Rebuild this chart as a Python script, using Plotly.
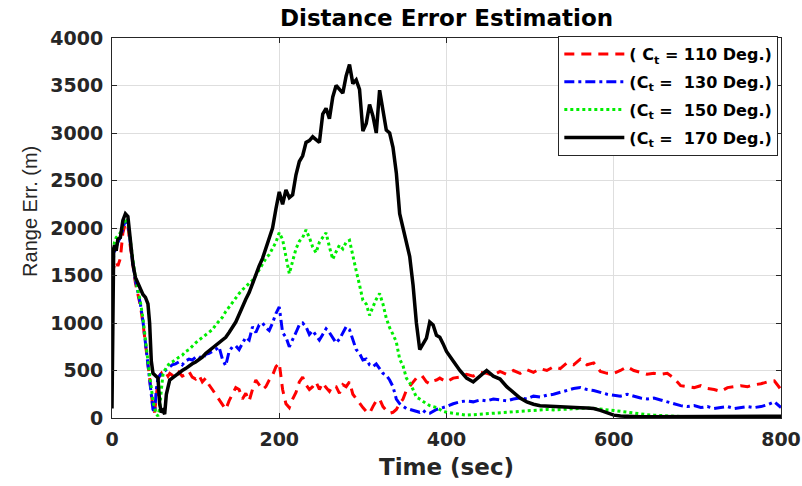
import plotly.graph_objects as go

# Sample times (s): dense at the start, then 4 s steps, then 8 s steps
T_START = [0, 1, 2, 3, 5, 7, 10, 13, 16, 19, 22, 25, 28, 31, 34, 37, 40, 43,
           45, 47, 49, 51, 53, 55, 57, 59, 61, 63, 65, 67, 69]
T_MID = list(range(72, 400, 4))
T_LATE = list(range(400, 801, 8))
time_s = T_START + T_MID + T_LATE

# Range error (m) for each turn-angle setting
err_110 = [
    1500, 1550, 1600, 1620, 1650, 1600, 1680, 1950, 2050, 2020, 1800, 1600, 1420, 1300, 1180, 1000,
    800, 560, 420, 260, 100, 60, 250, 400, 450, 470, 430, 450, 470, 440, 470,
    450, 420, 480, 440, 460, 490, 430, 410, 450, 380, 420, 350, 300, 250, 200, 150,
    90, 180, 250, 320, 300, 200, 260, 180, 300, 400, 350, 300, 330, 400, 450, 540,
    580, 300, 150, 110, 200, 270, 380, 430, 350, 300, 330, 380, 300, 370, 320, 280,
    340, 330, 260, 350, 330, 380, 250, 200, 150, 110, 70, 50, 120, 180, 200, 120,
    80, 50, 60, 90, 150, 200, 290, 330, 380, 420, 400, 430, 380, 360, 390, 400,
    420, 400,
    380, 420, 430, 460, 440, 480, 470, 450, 490, 460, 500, 470, 510, 480, 520, 500,
    540, 520, 580, 560, 620, 560, 580, 490, 470, 470, 500, 540, 500, 480, 460, 470,
    460, 470, 420, 340, 330, 320, 340, 310, 300, 280, 320, 330, 340, 330, 350, 360,
    380, 390, 300,
]
err_130 = [
    1600, 1650, 1700, 1750, 1800, 1850, 1900, 2000, 2080, 2050, 1820, 1620, 1450, 1320, 1200, 1020,
    820, 560, 400, 250, 90, 60, 300, 420, 450, 470, 480, 500, 510, 520, 540,
    560, 570, 590, 560, 600, 620, 610, 640, 650, 620, 670, 680, 700, 720, 750, 620,
    550, 700, 750, 760, 720, 780, 850, 820, 960, 900, 980, 1000, 950, 920, 1000, 1100,
    1170, 900, 850, 750, 820, 900, 980, 1000, 960, 880, 920, 870, 820, 880, 940, 900,
    850, 790, 830, 900, 960, 930, 820, 720, 680, 610, 620, 560, 540, 570, 520, 470,
    450, 400, 330, 200, 150, 120, 100, 90, 80, 70, 60, 80, 50, 50, 70, 90,
    100, 110,
    120, 150, 170, 180, 170, 190, 180, 200, 190, 180, 200, 210, 200, 230, 220, 240,
    250, 270, 290, 310, 320, 300, 290, 270, 250, 240, 230, 250, 230, 210, 200, 210,
    190, 170, 150, 130, 120, 130, 110, 120, 100, 110, 120, 100, 110, 120, 110, 120,
    140, 170, 110,
]
err_150 = [
    1700, 1750, 1800, 1850, 1900, 1920, 1950, 2020, 2100, 2060, 1850, 1630, 1470, 1340, 1220, 1050,
    850, 600, 450, 300, 180, 100, 40, 20, 100, 300, 460, 500, 530, 560, 580,
    590, 620, 640, 660, 700, 720, 760, 790, 820, 850, 870, 900, 930, 980, 1020, 1060,
    1120, 1170, 1220, 1260, 1310, 1350, 1380, 1420, 1450, 1500, 1560, 1620, 1680, 1720, 1780, 1850,
    1950, 1880, 1700, 1520, 1650, 1780, 1860, 1900, 1980, 1900, 1800, 1740, 1850, 1900, 1950, 1800,
    1670, 1750, 1820, 1780, 1850, 1870, 1700, 1550, 1400, 1240, 1200, 1080, 1170, 1250, 1310, 1200,
    1050, 950, 880, 800, 620, 550, 420, 370, 300, 220, 200, 170, 150, 130, 120, 110,
    90, 70,
    60, 50, 40, 30, 35, 40, 45, 50, 55, 60, 65, 75, 80, 85, 85, 90,
    85, 90, 95, 100, 100, 105, 100, 95, 90, 80, 70, 60, 50, 40, 35, 30,
    25, 20, 15, 15, 12, 10, 10, 10, 10, 10, 10, 10, 10, 10, 10, 10,
    10, 10, 10,
]
err_170 = [
    100, 1000, 1780, 1820, 1760, 1880, 1900, 2080, 2150, 2120, 1900, 1620, 1480, 1420, 1360, 1300,
    1270, 1200, 1000, 600, 470, 450, 440, 420, 150, 60, 80, 40, 250, 340, 400,
    420, 450, 470, 500, 520, 550, 570, 590, 610, 640, 680, 710, 740, 770, 800, 820,
    850, 900, 950, 1010, 1090, 1180, 1250, 1320, 1420, 1500, 1600, 1680, 1780, 1900, 2000, 2200,
    2380, 2250, 2400, 2320, 2350, 2560, 2700, 2760, 2900, 2920, 2960, 2930, 2900, 3200, 3260, 3150,
    3380, 3500, 3460, 3420, 3600, 3720, 3520, 3560, 3460, 3020, 3100, 3300, 3180, 3000, 3450, 3250,
    3030, 3000, 2850, 2580, 2150, 2000, 1860, 1700, 1400, 1000, 720, 780, 840, 1010, 980, 870,
    850, 780,
    700, 600, 500, 420, 380, 440, 500, 440, 410, 330, 270, 210, 170, 145, 130, 125,
    120, 115, 112, 110, 108, 105, 100, 80, 50, 30, 20, 15, 14, 13, 12, 12,
    12, 12, 12, 12, 12, 12, 12, 12, 12, 12, 12, 12, 12, 12, 14, 14,
    15, 16, 18,
]

series_names = [
    "( C<sub>t</sub> = 110 Deg.)",
    "(C<sub>t</sub> =  130 Deg.)",
    "(C<sub>t</sub> =  150 Deg.)",
    "(C<sub>t</sub> =  170 Deg.)",
]
series_values = [err_110, err_130, err_150, err_170]
series_colors = ["#ff0000", "#0000ff", "#00ee00", "#000000"]
series_dash = ["10px,7px", "10px,4px,3px,4px", "3px,3px", "solid"]
series_width = [3, 3, 3, 3.5]

for vals in series_values:
    assert len(vals) == len(time_s), (len(vals), len(time_s))

WIDE = "DejaVu Sans, Verdana, sans-serif"
NARROW = "Liberation Sans, Arial, sans-serif"
TXT = "#262626"

fig = go.Figure()
for i, (name, vals, col, dash, w) in enumerate(
        zip(series_names, series_values, series_colors, series_dash, series_width)):
    fig.add_trace(go.Scatter(
        x=time_s, y=vals, mode="lines", name=name, legendgroup=f"g{i}",
        line=dict(color=col, width=w, dash=dash),
    ))

axis_common = dict(
    showline=True, linecolor="#262626", linewidth=1, mirror="ticks",
    ticks="inside", ticklen=5, tickcolor="#262626",
    showgrid=True, gridcolor="#dedede", gridwidth=1,
    zeroline=False, automargin=False,
    tickfont=dict(family=WIDE, size=19, color=TXT, weight="bold"),
)

fig.update_layout(
    width=802, height=486,
    margin=dict(l=112, r=21, t=38, b=68),
    paper_bgcolor="white", plot_bgcolor="white",
    title=dict(text="Distance Error Estimation", x=0.5, xref="paper", xanchor="center",
               y=0.963, yanchor="middle",
               font=dict(family=WIDE, size=23, color="#000000", weight="bold")),
    xaxis=dict(range=[0, 800], tickvals=[0, 200, 400, 600, 800], ticklabelstandoff=4,
               title=dict(text="Time (sec)", standoff=10,
                          font=dict(family=WIDE, size=23, color=TXT, weight="bold")),
               **axis_common),
    yaxis=dict(range=[0, 4000], tickvals=list(range(0, 4001, 500)), ticklabelstandoff=4,
               **axis_common),
    annotations=[dict(text="Range Err. (m)", textangle=-90, showarrow=False,
                      xref="paper", yref="paper", x=-0.1226, y=0.545,
                      xanchor="center", yanchor="middle",
                      font=dict(family=NARROW, size=20, color=TXT))],
    legend=dict(x=0.996, y=1.005, xanchor="right", yanchor="top",
                bgcolor="white", bordercolor="#262626", borderwidth=1,
                font=dict(family=WIDE, size=16, color="#000000", weight="bold"),
                itemwidth=60, tracegroupgap=4),
    showlegend=True,
)

fig.write_html("out.html")
